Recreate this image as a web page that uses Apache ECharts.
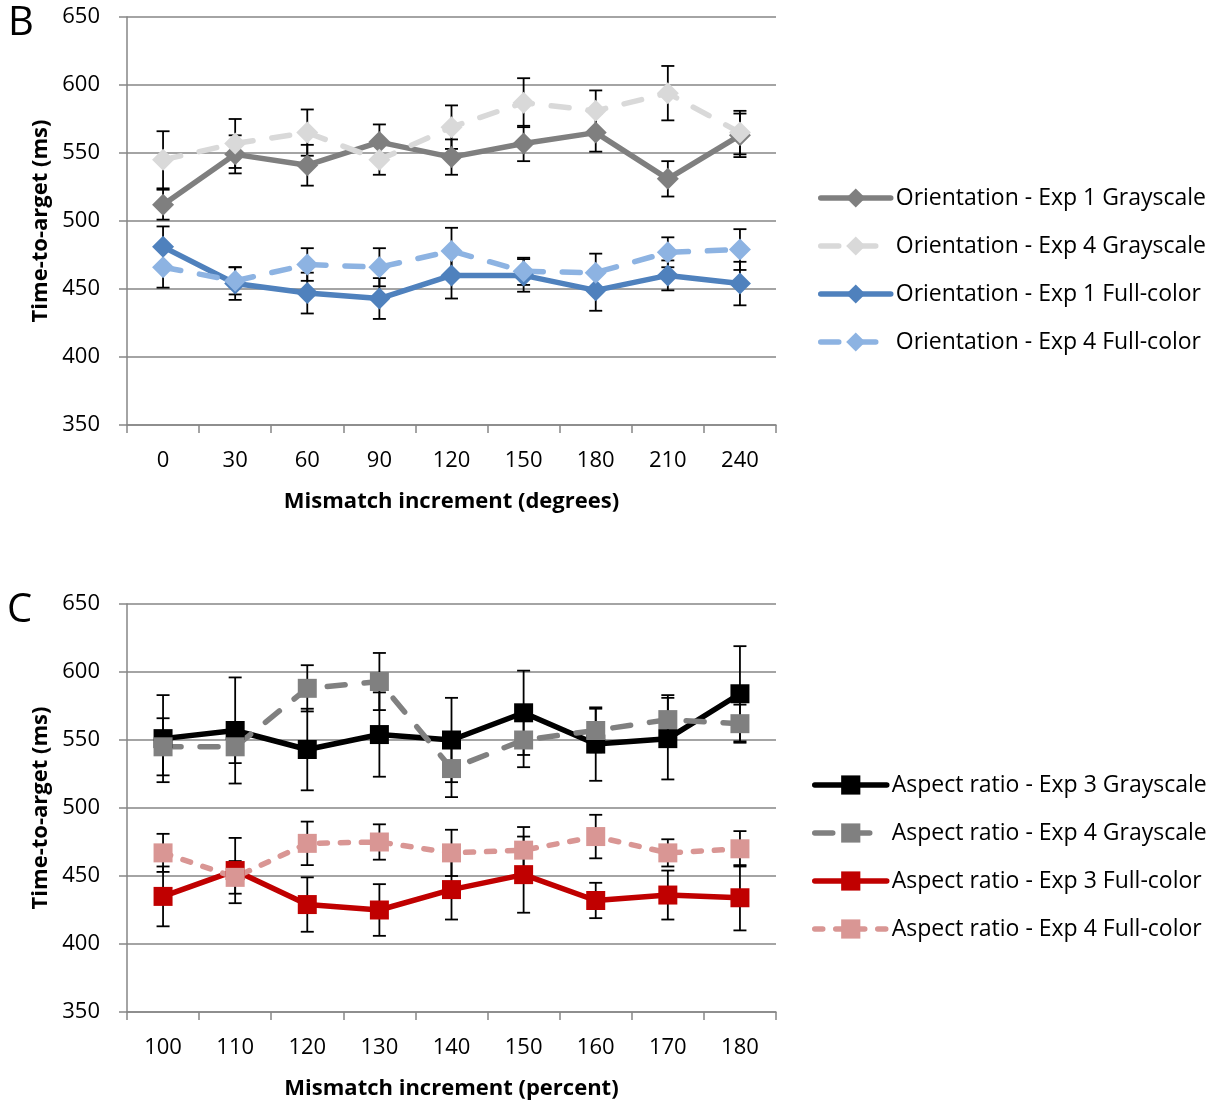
<!DOCTYPE html>
<html>
<head>
<meta charset="utf-8">
<script src="https://cdn.jsdelivr.net/npm/echarts@6/dist/echarts.min.js"></script>
<style>
html,body{margin:0;padding:0;background:#fff;}
#chart{width:1217px;height:1101px;}
</style>
</head>
<body>
<div id="chart"></div>
<script>
// ---------- Data (panel B: orientation) ----------
var orientCats = ['0','30','60','90','120','150','180','210','240'];
var oriExp1Gray    = [512, 549, 541, 558, 547, 557, 565, 531, 563];
var oriExp1GrayErr = [11, 14, 15, 13, 13, 13, 14, 13, 16];
var oriExp4Gray    = [545, 557, 565, 545, 569, 587, 581, 594, 565];
var oriExp4GrayErr = [21, 18, 17, 11, 16, 18, 15, 20, 16];
var oriExp1Full    = [481, 454, 447, 443, 460, 460, 449, 460, 454];
var oriExp1FullErr = [15, 12, 15, 15, 17, 12, 15, 11, 16];
var oriExp4Full    = [466, 456, 468, 466, 478, 463, 462, 477, 479];
var oriExp4FullErr = [15, 10, 12, 14, 17, 10, 14, 11, 15];

// ---------- Data (panel C: aspect ratio) ----------
var aspectCats = ['100','110','120','130','140','150','160','170','180'];
var asExp3Gray    = [551, 557, 543, 554, 550, 570, 547, 551, 584];
var asExp3GrayErr = [32, 39, 30, 31, 31, 31, 27, 30, 35];
var asExp4Gray    = [545, 545, 588, 593, 529, 550, 557, 565, 562];
var asExp4GrayErr = [21, 12, 17, 21, 21, 20, 16, 18, 14];
var asExp3Full    = [435, 454, 429, 425, 440, 451, 432, 436, 434];
var asExp3FullErr = [22, 24, 20, 19, 22, 28, 13, 18, 24];
var asExp4Full    = [467, 449, 474, 475, 467, 469, 479, 467, 470];
var asExp4FullErr = [14, 12, 16, 13, 17, 17, 16, 10, 13];

var yTicks = {min: 350, max: 650, interval: 50};

var FONT = '"Open Sans", sans-serif';

function errData(vals, errs){
  return vals.map(function(v, i){ return [i, v - errs[i], v + errs[i]]; });
}
function renderErr(params, api){
  var i = api.value(0);
  var lo = api.coord([i, api.value(1)]);
  var hi = api.coord([i, api.value(2)]);
  var w = 6.5;
  var st = {stroke: '#000', lineWidth: 1.8};
  return {type: 'group', children: [
    {type: 'line', shape: {x1: lo[0], y1: lo[1], x2: hi[0], y2: hi[1]}, style: st},
    {type: 'line', shape: {x1: lo[0]-w, y1: lo[1], x2: lo[0]+w, y2: lo[1]}, style: st},
    {type: 'line', shape: {x1: hi[0]-w, y1: hi[1], x2: hi[0]+w, y2: hi[1]}, style: st}
  ]};
}
function errSeries(vals, errs, idx){
  return {type: 'custom', xAxisIndex: idx, yAxisIndex: idx, z: 1,
    renderItem: renderErr, data: errData(vals, errs), silent: true};
}
function lineSeries(name, vals, idx, color, dashed, symbol, size, dash){
  return {
    name: name, type: 'line', xAxisIndex: idx, yAxisIndex: idx, z: 3,
    data: vals, symbol: symbol, symbolSize: size,
    itemStyle: {color: color},
    lineStyle: {color: color, width: 5.5, type: dashed ? dash : 'solid', cap: 'round', join: 'round'},
    emphasis: {disabled: true}
  };
}

function xAxisCfg(cats, idx, name){
  return {
    type: 'category', gridIndex: idx, data: cats, boundaryGap: true,
    name: name, nameLocation: 'middle', nameGap: 66,
    nameTextStyle: {fontFamily: FONT, fontWeight: 'bold', fontSize: 22, color: '#000'},
    axisLine: {show: true, lineStyle: {color: '#868686', width: 1.5}},
    axisTick: {show: true, length: 8, alignWithLabel: false, lineStyle: {color: '#868686', width: 1.5}},
    axisLabel: {fontFamily: FONT, fontSize: 22, color: '#000', margin: 25}
  };
}
function yAxisCfg(idx){
  return {
    type: 'value', gridIndex: idx, min: yTicks.min, max: yTicks.max, interval: yTicks.interval,
    name: 'Time-to-arget (ms)', nameLocation: 'middle', nameGap: 75,
    nameTextStyle: {fontFamily: FONT, fontWeight: 'bold', fontSize: 22, color: '#000'},
    axisLine: {show: true, lineStyle: {color: '#868686', width: 1.5}},
    axisTick: {show: true, length: 8, lineStyle: {color: '#868686', width: 1.5}},
    axisLabel: {fontFamily: FONT, fontSize: 22, color: '#000', margin: 27},
    splitLine: {show: true, lineStyle: {color: '#868686', width: 1.5}}
  };
}

var longDash = [18, 19];
var shortDash = [8, 13];

var legendBase = {
  orient: 'vertical', itemHeight: 24, itemGap: 24,
  lineStyle: {width: 5.5},
  textStyle: {fontFamily: FONT, fontSize: 23, color: '#000', lineHeight: 24}
};

var chart = echarts.init(document.getElementById('chart'), null, {renderer: 'canvas'});
chart.setOption({
  animation: false,
  backgroundColor: '#fff',
  grid: [
    {left: 127, top: 17, width: 649, height: 408},
    {left: 127, top: 604, width: 649, height: 408}
  ],
  xAxis: [
    xAxisCfg(orientCats, 0, 'Mismatch increment (degrees)'),
    xAxisCfg(aspectCats, 1, 'Mismatch increment (percent)')
  ],
  yAxis: [yAxisCfg(0), yAxisCfg(1)],
  legend: [
    Object.assign({}, legendBase, {left: 813, top: 181, itemWidth: 70,
     data: ['Orientation - Exp 1 Grayscale','Orientation - Exp 4 Grayscale','Orientation - Exp 1 Full-color','Orientation - Exp 4 Full-color']}),
    Object.assign({}, legendBase, {left: 807, top: 768, itemWidth: 72,
     data: ['Aspect ratio - Exp 3 Grayscale','Aspect ratio - Exp 4 Grayscale','Aspect ratio - Exp 3 Full-color','Aspect ratio - Exp 4 Full-color']})
  ],
  graphic: [
    {type: 'text', left: 8, top: 4, style: {text: 'B', font: '40px ' + FONT, fill: '#000'}},
    {type: 'text', left: 7, top: 591, style: {text: 'C', font: '40px ' + FONT, fill: '#000'}}
  ],
  series: [
    errSeries(oriExp1Gray, oriExp1GrayErr, 0),
    errSeries(oriExp4Gray, oriExp4GrayErr, 0),
    errSeries(oriExp1Full, oriExp1FullErr, 0),
    errSeries(oriExp4Full, oriExp4FullErr, 0),
    lineSeries('Orientation - Exp 1 Grayscale', oriExp1Gray, 0, '#7f7f7f', false, 'diamond', 22),
    lineSeries('Orientation - Exp 4 Grayscale', oriExp4Gray, 0, '#d9d9d9', true, 'diamond', 22, longDash),
    lineSeries('Orientation - Exp 1 Full-color', oriExp1Full, 0, '#4f81bd', false, 'diamond', 22),
    lineSeries('Orientation - Exp 4 Full-color', oriExp4Full, 0, '#8db3e2', true, 'diamond', 22, longDash),
    errSeries(asExp3Gray, asExp3GrayErr, 1),
    errSeries(asExp4Gray, asExp4GrayErr, 1),
    errSeries(asExp3Full, asExp3FullErr, 1),
    errSeries(asExp4Full, asExp4FullErr, 1),
    lineSeries('Aspect ratio - Exp 3 Grayscale', asExp3Gray, 1, '#000000', false, 'rect', 19),
    lineSeries('Aspect ratio - Exp 4 Grayscale', asExp4Gray, 1, '#808080', true, 'rect', 19, longDash),
    lineSeries('Aspect ratio - Exp 3 Full-color', asExp3Full, 1, '#c00000', false, 'rect', 19),
    lineSeries('Aspect ratio - Exp 4 Full-color', asExp4Full, 1, '#d99694', true, 'rect', 19, shortDash)
  ]
});
</script>
</body>
</html>
